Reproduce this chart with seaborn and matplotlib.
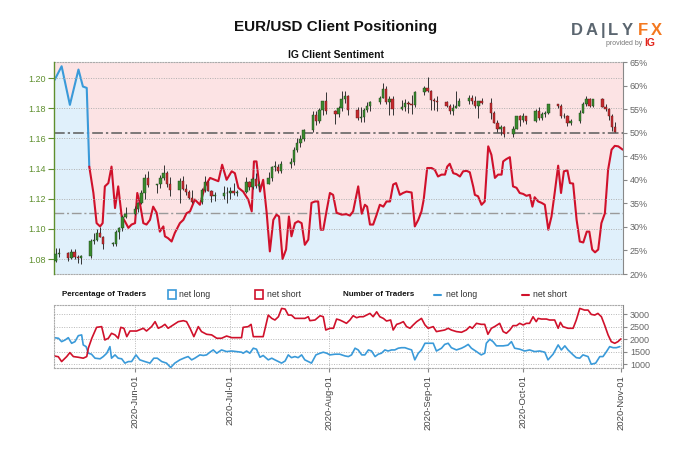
import numpy as np
import pandas as pd
import matplotlib
matplotlib.use("Agg")
import matplotlib.pyplot as plt
import matplotlib.dates as mdates
from matplotlib.patches import Rectangle
from matplotlib.lines import Line2D
import seaborn as sns

sns.set_style("white")
plt.rcParams['font.family'] = ['Liberation Sans', 'DejaVu Sans']

START = pd.Timestamp("2020-05-07")

# ---------------- price candles (EUR/USD daily) ----------------
candle_dates = pd.bdate_range("2020-05-07", "2020-10-30")
opens = [
    1.0790, 1.0835, 1.0840, 1.0808, 1.0850, 1.0816, 1.0805, 1.0820, 1.0920, 1.0925, 1.0975, 1.0945, 1.0900, 1.0900, 1.0980, 1.1005, 1.1080,
    1.1100, 1.1135, 1.1170, 1.1235, 1.1340, 1.1290, 1.1295, 1.1340, 1.1370, 1.1300, 1.1255, 1.1320, 1.1265, 1.1245, 1.1205, 1.1175, 1.1260, 1.1310, 1.1250, 1.1220, 1.1220, 1.1240,
    1.1235, 1.1250, 1.1240, 1.1245, 1.1310, 1.1275, 1.1330, 1.1285, 1.1300, 1.1340, 1.1410, 1.1410, 1.1385, 1.1430, 1.1445, 1.1525, 1.1570, 1.1595, 1.1655, 1.1755, 1.1715, 1.1790, 1.1845,
    1.1780, 1.1760, 1.1800, 1.1860, 1.1880, 1.1785, 1.1735, 1.1740, 1.1785, 1.1815, 1.1840, 1.1870, 1.1930, 1.1840, 1.1860, 1.1795, 1.1810, 1.1835, 1.1830, 1.1820, 1.1905,
    1.1935, 1.1915, 1.1855, 1.1850, 1.1840, 1.1815, 1.1780, 1.1800, 1.1815, 1.1845, 1.1865, 1.1845, 1.1815, 1.1850, 1.1835, 1.1770, 1.1705, 1.1660, 1.1675, 1.1630, 1.1665, 1.1745,
    1.1720, 1.1745, 1.1715, 1.1780, 1.1735, 1.1760, 1.1765, 1.1825, 1.1815, 1.1745, 1.1745, 1.1705, 1.1715, 1.1770, 1.1825, 1.1860, 1.1815, 1.1860, 1.1810, 1.1795, 1.1745, 1.1675]
closes = [
    1.0835, 1.0840, 1.0808, 1.0850, 1.0816, 1.0805, 1.0820, 1.0920, 1.0925, 1.0975, 1.0945, 1.0900, 1.0900, 1.0980, 1.1005, 1.1080, 1.1100,
    1.1135, 1.1170, 1.1235, 1.1340, 1.1290, 1.1295, 1.1340, 1.1370, 1.1300, 1.1255, 1.1320, 1.1265, 1.1245, 1.1205, 1.1175, 1.1260, 1.1310, 1.1250, 1.1220, 1.1220, 1.1240, 1.1235,
    1.1250, 1.1240, 1.1245, 1.1310, 1.1275, 1.1330, 1.1285, 1.1300, 1.1340, 1.1410, 1.1410, 1.1385, 1.1430, 1.1445, 1.1525, 1.1570, 1.1595, 1.1655, 1.1755, 1.1715, 1.1790, 1.1845, 1.1780,
    1.1760, 1.1800, 1.1860, 1.1880, 1.1785, 1.1735, 1.1740, 1.1785, 1.1815, 1.1840, 1.1870, 1.1930, 1.1840, 1.1860, 1.1795, 1.1810, 1.1835, 1.1830, 1.1820, 1.1905, 1.1935,
    1.1915, 1.1855, 1.1850, 1.1840, 1.1815, 1.1780, 1.1800, 1.1815, 1.1845, 1.1865, 1.1845, 1.1815, 1.1850, 1.1835, 1.1770, 1.1705, 1.1660, 1.1675, 1.1630, 1.1665, 1.1745, 1.1720,
    1.1745, 1.1715, 1.1780, 1.1735, 1.1760, 1.1765, 1.1825, 1.1815, 1.1745, 1.1745, 1.1705, 1.1715, 1.1770, 1.1825, 1.1860, 1.1815, 1.1860, 1.1810, 1.1795, 1.1745, 1.1675, 1.1645]
highs = [
    1.0875, 1.0875, 1.0850, 1.0870, 1.0870, 1.0830, 1.0830, 1.0930, 1.0975, 1.1000, 1.1010, 1.0950, 1.0915, 1.0995, 1.1010, 1.1095, 1.1145,
    1.1155, 1.1180, 1.1255, 1.1365, 1.1385, 1.1300, 1.1355, 1.1425, 1.1385, 1.1345, 1.1335, 1.1350, 1.1295, 1.1260, 1.1255, 1.1270, 1.1350, 1.1315, 1.1260, 1.1245, 1.1285, 1.1275,
    1.1280, 1.1305, 1.1255, 1.1345, 1.1320, 1.1345, 1.1370, 1.1315, 1.1375, 1.1415, 1.1450, 1.1430, 1.1450, 1.1470, 1.1545, 1.1600, 1.1620, 1.1660, 1.1780, 1.1780, 1.1800, 1.1850, 1.1910,
    1.1790, 1.1815, 1.1915, 1.1915, 1.1885, 1.1805, 1.1805, 1.1800, 1.1840, 1.1845, 1.1880, 1.1965, 1.1950, 1.1880, 1.1880, 1.1855, 1.1860, 1.1845, 1.1890, 1.1915, 1.1950,
    1.2010, 1.1920, 1.1870, 1.1880, 1.1845, 1.1830, 1.1830, 1.1915, 1.1870, 1.1885, 1.1890, 1.1880, 1.1850, 1.1870, 1.1870, 1.1780, 1.1720, 1.1690, 1.1680, 1.1685, 1.1750, 1.1755,
    1.1770, 1.1750, 1.1795, 1.1810, 1.1775, 1.1780, 1.1830, 1.1830, 1.1825, 1.1770, 1.1755, 1.1730, 1.1785, 1.1840, 1.1880, 1.1870, 1.1860, 1.1865, 1.1830, 1.1800, 1.1760, 1.1710]
lows = [
    1.0782, 1.0815, 1.0785, 1.0800, 1.0800, 1.0775, 1.0765, 1.0810, 1.0900, 1.0920, 1.0945, 1.0870, 1.0890, 1.0885, 1.0935, 1.0985, 1.1070,
    1.1095, 1.1110, 1.1165, 1.1200, 1.1275, 1.1240, 1.1270, 1.1325, 1.1280, 1.1215, 1.1170, 1.1255, 1.1225, 1.1195, 1.1170, 1.1165, 1.1245, 1.1250, 1.1180, 1.1185, 1.1200, 1.1170,
    1.1195, 1.1225, 1.1220, 1.1235, 1.1255, 1.1265, 1.1270, 1.1255, 1.1295, 1.1320, 1.1385, 1.1370, 1.1370, 1.1405, 1.1425, 1.1510, 1.1540, 1.1580, 1.1640, 1.1690, 1.1705, 1.1755, 1.1760,
    1.1695, 1.1740, 1.1780, 1.1835, 1.1755, 1.1725, 1.1710, 1.1710, 1.1775, 1.1780, 1.1825, 1.1865, 1.1830, 1.1755, 1.1755, 1.1785, 1.1780, 1.1765, 1.1760, 1.1810, 1.1885,
    1.1905, 1.1790, 1.1790, 1.1780, 1.1805, 1.1760, 1.1755, 1.1800, 1.1815, 1.1830, 1.1825, 1.1800, 1.1735, 1.1825, 1.1730, 1.1700, 1.1645, 1.1625, 1.1610, 1.1610, 1.1660, 1.1685,
    1.1710, 1.1695, 1.1710, 1.1725, 1.1720, 1.1740, 1.1760, 1.1800, 1.1735, 1.1735, 1.1685, 1.1690, 1.1705, 1.1765, 1.1815, 1.1805, 1.1810, 1.1805, 1.1780, 1.1720, 1.1650, 1.1640]

# ---------------- IG client sentiment (% net long), day offset from START ----------------
sent_day = [-0.3, 1.9, 4.5, 7.2, 8.6, 9.8, 10.6, 11.9, 12.9, 14.0, 14.8, 15.5, 16.6, 17.6, 18.7, 19.7, 20.8, 21.8,
            22.9, 23.9, 25.0, 25.7, 26.5, 27.6, 28.6, 29.7, 30.7, 31.8, 32.8, 33.9, 34.4, 35.4, 36.5, 37.5, 39.1,
            40.2, 41.2, 42.3, 43.8, 45.4, 47.0, 48.6, 50.1, 51.2, 52.4, 53.8, 55.4, 56.4, 57.5, 59.0, 60.6, 61.7,
            62.4, 63.2, 64.3, 65.3, 66.4, 67.4, 68.5, 69.5, 70.3, 71.4, 72.5, 73.4, 74.2, 75.3, 76.3, 77.4, 78.4,
            79.5, 80.5, 81.6, 82.6, 83.4, 84.2, 85.3, 86.3, 87.3, 88.4, 90.0, 91.5, 92.6, 93.6, 95.2, 96.3, 97.3,
            98.0, 98.9, 99.9, 101.0, 102.0, 103.1, 104.1, 105.2, 106.2, 107.1, 108.3, 109.3, 110.4, 112.0, 113.0,
            114.1, 115.1, 115.8, 116.9, 118.3, 119.3, 120.3, 121.4, 122.5, 123.2, 124.0, 125.1, 126.1, 127.2, 128.2,
            129.3, 130.3, 131.4, 131.9, 132.9, 134.0, 135.0, 136.1, 137.1, 138.2, 139.2, 140.3, 140.8, 141.8, 142.9,
            143.9, 145.0, 146.0, 147.1, 148.1, 149.2, 150.0, 150.7, 151.8, 152.9, 153.9, 155.0, 156.0, 157.0, 158.1,
            159.0, 159.9, 161.0, 161.8, 162.8, 163.9, 164.9, 166.0, 167.1, 167.9, 168.8, 169.7, 170.7, 171.7, 172.8,
            173.8, 174.9, 175.9, 177.0, 178.4]
sent_pct = [61.2, 64.1, 55.9, 63.4, 59.8, 59.5, 42.8, 37.2, 30.8, 30.1, 30.8, 38.6, 39.3, 42.8, 34.0, 38.6, 32.2, 31.2,
            29.8, 30.5, 30.8, 37.2, 35.1, 30.8, 30.5, 31.5, 34.3, 33.0, 29.0, 30.1, 28.0, 27.6, 26.9, 28.7, 30.8,
            31.5, 32.9, 33.3, 35.8, 34.7, 38.6, 40.4, 40.0, 39.7, 43.2, 40.0, 41.8, 41.4, 38.3, 37.5, 35.8, 33.3,
            43.9, 43.9, 37.5, 40.0, 33.0, 24.8, 31.5, 32.6, 32.2, 23.2, 25.2, 32.2, 28.0, 30.8, 31.2, 30.8, 26.2,
            27.3, 35.1, 35.4, 35.4, 29.4, 29.4, 33.6, 37.2, 36.8, 33.0, 32.6, 32.7, 32.4, 33.3, 38.6, 32.8, 34.7,
            34.3, 30.5, 30.5, 32.6, 34.7, 34.3, 35.4, 35.4, 39.0, 39.3, 36.8, 37.2, 37.5, 37.3, 30.1,
            31.5, 33.3, 35.8, 42.5, 42.5, 42.1, 40.7, 41.1, 41.1, 42.8, 43.4, 41.4, 41.2, 40.7, 41.8,
            41.9, 41.6, 38.5, 36.8, 36.5, 34.7, 35.4, 47.1, 45.3, 40.4, 41.1, 41.1, 43.9, 44.4, 44.8,
            38.6, 38.3, 37.2, 37.0, 36.6, 36.8, 34.3, 36.3, 35.4, 35.1, 34.7, 29.4, 32.2, 37.2, 43.0,
            37.2, 41.8, 42.0, 39.3, 39.2, 31.5, 26.9, 26.7, 29.0, 29.0, 25.2, 24.6, 25.2, 30.8, 32.9,
            42.1, 46.4, 47.2, 47.1, 46.4]

# ---------------- number of traders ----------------
short_day = [-0.5, 0.85, 1.9, 3.5, 4.5, 5.6, 7.1, 8.7, 9.8, 10.3, 11.4, 12.9, 14.5, 15.5, 16.6, 17.6, 18.7, 19.7, 20.5,
             21.5, 22.4, 23.4, 25.5, 27.6, 28.6, 30.2, 31.3, 32.3, 33.4, 34.4, 35.4, 37.0, 38.6, 40.2, 41.2, 42.3,
             43.5, 44.9, 45.9, 47.5, 49.1, 50.7, 52.2, 53.8, 55.4, 56.9, 58.5, 59.0, 60.6, 61.5, 62.2, 63.8, 65.3,
             66.9, 68.0, 69.0, 70.1, 71.1, 72.2, 73.2, 74.2, 75.3, 76.9, 78.4, 79.5, 80.0, 81.6, 83.2, 84.2, 85.0,
             86.3, 87.4, 88.4, 89.4, 90.5, 91.5, 92.6, 93.6, 94.7, 95.7, 96.8, 97.8, 98.9, 99.9, 101.0, 102.0, 103.1,
             104.1, 105.4, 106.2, 107.3, 108.3, 109.4, 110.4, 111.5, 112.5, 113.6, 115.1, 116.2, 117.2, 118.8, 119.8,
             120.8, 122.4, 123.5, 124.5, 126.1, 127.7, 129.2, 130.3, 131.1, 132.4, 133.9, 135.0, 136.0, 137.1, 138.1,
             139.7, 140.8, 141.8, 142.9, 143.9, 145.0, 146.0, 147.1, 148.1, 149.1, 150.2, 151.2, 151.8, 152.8, 154.4,
             155.4, 157.0, 158.1, 158.8, 159.6, 161.2, 162.8, 163.8, 164.9, 166.4, 167.5, 168.5, 169.6, 170.6, 171.7,
             172.7, 173.8, 174.8, 175.9, 176.9, 177.8]
short_cnt = [1333, 1300, 1107, 1306, 1465, 1306, 1280, 1242, 1306, 1640, 2036, 2472, 2500, 1968, 2036, 2234, 2170, 2036, 2472,
             2434, 2100, 2325, 2325, 2434, 2325, 2500, 2698, 2434, 2500, 2591, 2434, 2566, 2698, 2737, 2698, 2434,
             2100, 2500, 2302, 2195, 2170, 2036, 2036, 2125, 2060, 2060, 2060, 2472, 2500, 2591, 2100, 2100, 2100,
             2960, 2829, 2764, 2895, 3226, 3200, 2960, 2960, 2829, 2829, 2829, 2895, 2737, 2764, 2934, 2895, 2365,
             2434, 2434, 2802, 2764, 2698, 2631, 2764, 2934, 2855, 2895, 2895, 2960, 3027, 2895, 3091, 2895, 2829,
             2724, 2764, 2365, 2591, 2631, 2698, 2500, 2434, 2566, 2698, 2829, 2566, 2434, 2500, 2302,
             2325, 2365, 2434, 2365, 2302, 2275, 2365, 2500, 2434, 2631, 2591, 2591, 2195, 2434, 2500,
             2631, 2302, 2234, 2365, 2540, 2540, 2631, 2566, 2631, 2631, 2893, 2698, 2829, 2802, 2802,
             2764, 2764, 2434, 2671, 2500, 2434, 2434, 2764, 3226, 3160, 3160, 2988, 2960, 3027, 2895,
             2566, 2170, 1901, 1835, 1901, 2008]
long_day = [-0.5, 0.9, 1.9, 3.0, 4.0, 5.05, 6.1, 7.15, 8.2, 8.7, 9.6, 10.3, 11.3, 12.4, 14.0, 15.0, 16.1, 17.1, 17.6,
            18.7, 19.7, 20.8, 21.8, 22.9, 23.9, 25.3, 26.5, 28.1, 29.7, 30.9, 32.0, 33.4, 34.9, 36.2, 37.5, 39.1,
            40.7, 41.7, 42.8, 43.8, 45.4, 46.5, 47.5, 48.6, 49.6, 50.7, 52.2, 53.8, 55.4, 56.9, 58.5, 59.0, 60.1,
            61.1, 62.2, 63.2, 64.3, 65.3, 66.9, 68.0, 69.0, 70.1, 71.1, 72.2, 73.2, 74.2, 75.3, 76.3, 77.4, 78.4,
            79.5, 80.5, 81.9, 83.2, 84.2, 85.3, 86.3, 87.9, 89.4, 91.0, 92.1, 93.1, 94.2, 95.2, 96.3, 97.3, 98.4,
            99.4, 100.5, 101.5, 102.5, 103.6, 104.6, 105.7, 106.7, 107.8, 108.8, 109.9, 110.9, 112.0, 113.0, 114.1,
            115.1, 116.2, 117.2, 118.8, 119.8, 121.4, 122.4, 123.5, 124.5, 126.1, 127.7, 128.7, 129.8, 130.8, 132.4,
            133.9, 135.0, 135.5, 136.6, 137.6, 138.7, 140.8, 142.3, 143.4, 144.4, 146.0, 147.6, 149.1, 150.7, 152.3,
            153.9, 154.9, 156.5, 158.1, 159.1, 160.2, 161.2, 162.8, 163.8, 164.9, 165.9, 167.5, 168.5, 169.9, 171.2,
            172.2, 173.3, 174.3, 175.4, 176.4, 177.5]
long_cnt = [2060, 2036, 1901, 1968, 2060, 1835, 1901, 2139, 2170, 1770, 1703, 1440, 1401, 1242, 1217, 1306, 1440, 1703, 1242,
            1373, 1242, 1217, 1045, 1107, 1107, 1373, 1175, 1107, 1045, 1242, 1242, 1107, 1045, 869, 1045, 1175,
            1263, 1306, 1175, 1242, 1373, 1350, 1373, 1485, 1571, 1440, 1571, 1505, 1528, 1505, 1480, 1440, 1528,
            1440, 1640, 1601, 1280, 1350, 1175, 1242, 1175, 1107, 1045, 1130, 1373, 1263, 1306, 1263, 1373, 1175,
            1107, 1045, 1373, 1440, 1480, 1440, 1373, 1401, 1401, 1333, 1306, 1373, 1640, 1571, 1373, 1373, 1571,
            1528, 1306, 1401, 1440, 1571, 1528, 1571, 1571, 1640, 1660, 1660, 1615, 1571, 1175, 1440,
            1571, 1837, 1837, 1837, 1528, 1640, 1791, 1837, 1660, 1571, 1640, 1703, 1791, 1640, 1505,
            1373, 1440, 1837, 1996, 1901, 1733, 1733, 1760, 1901, 1640, 1601, 1528, 1571, 1505, 1528,
            1480, 1175, 1401, 1770, 1571, 1733, 1571, 1373, 1263, 1242, 1373, 1306, 1000, 1045, 1306,
            1306, 1505, 1703, 1660, 1660, 1703]

price_ticks = [1.08, 1.10, 1.12, 1.14, 1.16, 1.18, 1.20]
pct_ticks = [20, 25, 30, 35, 40, 45, 50, 55, 60, 65]
count_ticks = [1000, 1500, 2000, 2500, 3000]
month_ticks = ["2020-06-01", "2020-07-01", "2020-08-01", "2020-09-01", "2020-10-01", "2020-11-01"]

# ---------------- colours ----------------
RED = "#d0112b"
BLUE = "#3a9ad9"
PINK_BG = "#fce3e4"
BLUE_BG = "#e0f0fb"
GREEN_TXT = "#5e8f2e"
GREY = "#666666"
C_UP = "#3a8a2e"
C_DN = "#c62a2f"

def to_date(days):
    return START + pd.to_timedelta(np.asarray(days, dtype=float), unit="D")

x0 = START - pd.Timedelta(hours=12)
x1 = START + pd.Timedelta(days=178.5)

fig = plt.figure(figsize=(6.8, 4.53), dpi=100)

# ---------------- main panel ----------------
ax_p = fig.add_axes([0.0794, 0.3951, 0.8368, 0.468])
ax_c = ax_p.twinx()
ax_c.set_zorder(ax_p.get_zorder() + 1)
ax_c.patch.set_visible(False)

sx = to_date(sent_day)
sp = np.array(sent_pct)
ax_p.fill_between(sx, sp, 20, color=BLUE_BG, lw=0)
ax_p.fill_between(sx, sp, 65, color=PINK_BG, lw=0)
ax_p.axhline(50, color="#5a5a5a", lw=1.1, ls=(0, (7, 2, 1.5, 2)))
ax_p.axhline(33, color="#9a9a9a", lw=1.0, ls=(0, (7, 2, 1.5, 2)))

n_long = 7
df_sent = pd.concat([
    pd.DataFrame({"date": sx[:n_long], "pct": sp[:n_long], "side": "long"}),
    pd.DataFrame({"date": sx[n_long - 1:], "pct": sp[n_long - 1:], "side": "short"}),
])
sns.lineplot(data=df_sent, x="date", y="pct", hue="side", palette={"long": BLUE, "short": RED},
             sort=False, estimator=None, legend=False, lw=1.5, ax=ax_p)

ax_p.set_ylim(20, 65)
ax_p.set_xlim(x0, x1)
ax_p.yaxis.tick_right()
ax_p.set_yticks(pct_ticks)
ax_p.set_yticklabels([f"{t}%" for t in pct_ticks])
ax_p.tick_params(axis="y", labelsize=6.5, labelcolor=GREY, color="#888888", length=3, width=0.8,
                 right=True, left=False, pad=2)
ax_p.set_ylabel("")
ax_p.set_xlabel("")

# candles
cd = candle_dates
o = np.array(opens); c = np.array(closes); h = np.array(highs); l = np.array(lows)
up = c >= o
ax_c.vlines(cd, l, h, color="#333333", lw=0.7, zorder=2)
body = np.maximum(np.abs(c - o), 0.0004)
ax_c.bar(cd[up], body[up], bottom=np.minimum(o, c)[up], width=0.75, color=C_UP,
         edgecolor="#1c3f1a", lw=0.3, zorder=3)
ax_c.bar(cd[~up], body[~up], bottom=np.minimum(o, c)[~up], width=0.75, color=C_DN,
         edgecolor="#5a1515", lw=0.3, zorder=3)

ax_c.set_ylim(1.0701, 1.2106)
ax_c.set_xlim(x0, x1)
ax_c.yaxis.tick_left()
ax_c.set_yticks(price_ticks)
ax_c.set_yticklabels([f"{t:.2f}" for t in price_ticks])
ax_c.tick_params(axis="y", labelsize=6.5, labelcolor=GREEN_TXT, color=GREEN_TXT, length=4, width=0.8,
                 left=True, right=False, pad=2)
ax_c.grid(True, axis="y", color="#b0b0b0", ls=(0, (1, 1.5)), lw=0.7)
ax_c.grid(True, axis="x", color="#b0b0b0", ls=(0, (1, 1.5)), lw=0.7)
ax_c.set_axisbelow(True)

mt = pd.to_datetime(month_ticks)
for a in (ax_p, ax_c):
    a.set_xticks(mt)
    a.tick_params(axis="x", bottom=False, labelbottom=False)

for s in ax_c.spines.values():
    s.set_visible(False)
ax_c.spines["left"].set_visible(True)
ax_c.spines["left"].set_color(GREEN_TXT)
ax_c.spines["left"].set_linewidth(1.0)
for k in ("top", "bottom"):
    ax_p.spines[k].set_linestyle((0, (1, 1.5)))
    ax_p.spines[k].set_color("#aaaaaa")
    ax_p.spines[k].set_linewidth(0.8)
ax_p.spines["left"].set_visible(False)
ax_p.spines["right"].set_color("#888888")
ax_p.spines["right"].set_linewidth(0.8)

# ---------------- lower panel ----------------
ax_n = fig.add_axes([0.0794, 0.1876, 0.8368, 0.139])
df_cnt = pd.concat([
    pd.DataFrame({"date": to_date(long_day), "n": long_cnt, "side": "net long"}),
    pd.DataFrame({"date": to_date(short_day), "n": short_cnt, "side": "net short"}),
])
sns.lineplot(data=df_cnt, x="date", y="n", hue="side", palette={"net long": BLUE, "net short": RED},
             sort=False, estimator=None, legend=False, lw=1.2, ax=ax_n)
ax_n.set_xlim(x0, x1)
ax_n.set_ylim(850, 3360)
ax_n.yaxis.tick_right()
ax_n.set_yticks(count_ticks)
ax_n.set_yticklabels([str(t) for t in count_ticks])
ax_n.tick_params(axis="y", labelsize=6.5, labelcolor=GREY, color="#888888", length=3, width=0.8,
                 right=True, left=False, pad=2)
ax_n.set_xticks(mt)
ax_n.xaxis.set_major_formatter(mdates.DateFormatter("%Y-%b-%d"))
ax_n.tick_params(axis="x", bottom=True, labelsize=6.8, labelcolor="#444444", color="#888888",
                 length=3, width=0.8, labelrotation=90, pad=2)
ax_n.grid(True, color="#b8b8b8", ls=(0, (1, 1.5)), lw=0.7)
ax_n.set_xlabel("")
ax_n.set_ylabel("")
for k in ("top", "bottom", "left"):
    ax_n.spines[k].set_linestyle((0, (1, 1.5)))
    ax_n.spines[k].set_color("#aaaaaa")
    ax_n.spines[k].set_linewidth(0.8)
ax_n.spines["right"].set_color("#888888")
ax_n.spines["right"].set_linewidth(0.8)

# ---------------- titles, legend, logo ----------------
fig.text(0.494, 0.940, "EUR/USD Client Positioning", ha="center", va="center",
         fontsize=11, fontweight="bold", color="#111111")
fig.text(0.494, 0.879, "IG Client Sentiment", ha="center", va="center",
         fontsize=7.5, fontweight="bold", color="#111111")

ly = 0.349
fig.text(0.091, ly, "Percentage of Traders", ha="left", va="center", fontsize=5.8,
         fontweight="bold", color="#111111")
fig.patches.append(Rectangle((0.247, ly - 0.010), 0.0115, 0.020, transform=fig.transFigure,
                             fill=False, edgecolor=BLUE, lw=1.2))
fig.text(0.263, ly, "net long", ha="left", va="center", fontsize=6.3, color="#333333")
fig.patches.append(Rectangle((0.375, ly - 0.010), 0.0115, 0.020, transform=fig.transFigure,
                             fill=False, edgecolor=RED, lw=1.2))
fig.text(0.392, ly, "net short", ha="left", va="center", fontsize=6.3, color="#333333")
fig.text(0.504, ly, "Number of Traders", ha="left", va="center", fontsize=5.8,
         fontweight="bold", color="#111111")
fig.lines.append(Line2D([0.638, 0.649], [ly, ly], transform=fig.transFigure, color=BLUE, lw=1.5))
fig.text(0.656, ly, "net long", ha="left", va="center", fontsize=6.3, color="#333333")
fig.lines.append(Line2D([0.768, 0.778], [ly, ly], transform=fig.transFigure, color=RED, lw=1.5))
fig.text(0.784, ly, "net short", ha="left", va="center", fontsize=6.3, color="#333333")

logo_letters = ["D", "A", "|", "L", "Y", "F", "X"]
logo_x = [0.848, 0.870, 0.887, 0.902, 0.922, 0.946, 0.966]
logo_col = ["#5b6670"] * 5 + ["#f47920"] * 2
for ch, xx, cc in zip(logo_letters, logo_x, logo_col):
    fig.text(xx, 0.933, ch, ha="center", va="center", fontsize=12, fontweight="bold", color=cc)
fig.text(0.944, 0.905, "provided by", ha="right", va="center", fontsize=5, color="#777777")
fig.text(0.947, 0.905, "IG", ha="left", va="center", fontsize=7.5, fontweight="bold",
         color="#e2231a")

fig.savefig("out.png", dpi=100)
